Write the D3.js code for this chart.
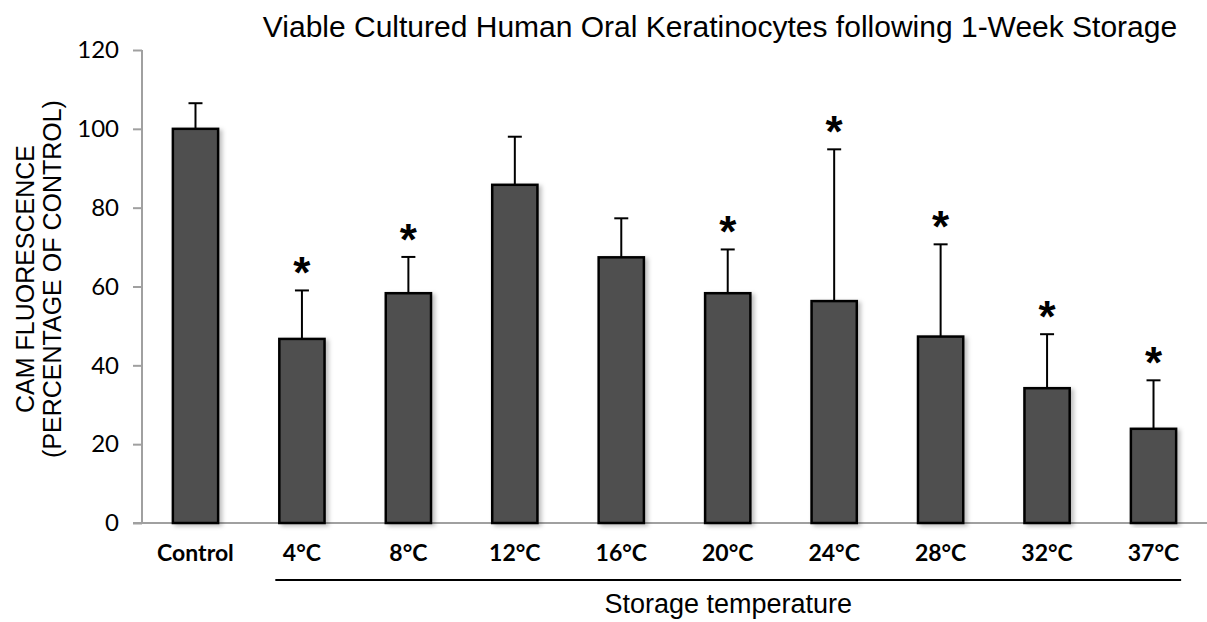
<!DOCTYPE html>
<html>
<head>
<meta charset="utf-8" />
<script src="https://cdnjs.cloudflare.com/ajax/libs/d3/7.8.5/d3.min.js"></script>
<style>
  body { margin: 0; background: #fff; }
  .xlab { font-family: Lato, 'Open Sans', sans-serif; font-size: 23px; font-weight: bold; }
  .title, .label { font-family: 'Liberation Sans', Arial, sans-serif; fill: #000; }
</style>
</head>
<body>
<script>
// chart values
const categories = ["Control", "4°C", "8°C", "12°C", "16°C", "20°C", "24°C", "28°C", "32°C", "37°C"];
const means = [100, 46.7, 58.3, 85.8, 67.4, 58.3, 56.3, 47.3, 34.2, 23.9];
const upperErr = [106.5, 59, 67.5, 98, 77.3, 69.4, 94.8, 70.7, 47.9, 36.2];
const significant = [false, true, true, false, false, true, true, true, true, true];
const yTicks = [0, 20, 40, 60, 80, 100, 120];

const W = 1207, H = 622;
const m = {left: 142, right: 0, top: 50, bottom: 99};

const svg = d3.select("body").append("svg")
  .attr("width", W).attr("height", H);

const x = d3.scaleBand()
  .domain(categories)
  .range([m.left, W - m.right])
  .paddingInner(0.575)
  .paddingOuter(0.29);

const y = d3.scaleLinear()
  .domain([0, 120])
  .range([H - m.bottom, m.top]);

// shadow for bars
const defs = svg.append("defs");
const f = defs.append("filter").attr("id", "shadow")
  .attr("x", "-20%").attr("y", "-5%").attr("width", "150%").attr("height", "110%");
f.append("feDropShadow").attr("dx", 3).attr("dy", 2).attr("stdDeviation", 2)
  .attr("flood-color", "#000").attr("flood-opacity", 0.25);

// y axis
const yAxis = svg.append("g")
  .attr("transform", "translate(" + m.left + ",0)")
  .call(d3.axisLeft(y).tickValues(yTicks).tickSize(9).tickPadding(14));
yAxis.selectAll("line, path").attr("stroke", "#a0a0a0").attr("stroke-width", 2);
yAxis.select(".domain").attr("d", "M0," + y(120) + "V" + y(0));
yAxis.selectAll(".tick text")
  .attr("font-family", "Lato, 'Open Sans', sans-serif")
  .attr("font-size", 24)
  .attr("fill", "#000");

// x axis baseline
svg.append("line")
  .attr("x1", m.left - 9).attr("x2", W)
  .attr("y1", y(0)).attr("y2", y(0))
  .attr("stroke", "#a0a0a0").attr("stroke-width", 2);

const data = categories.map((c, i) => ({c, v: means[i], e: upperErr[i], s: significant[i]}));

// error bars (behind the bars)
const eg = svg.append("g").attr("stroke", "#000").attr("stroke-width", 2);
data.forEach(d => {
  const cx = x(d.c) + x.bandwidth() / 2;
  eg.append("line").attr("x1", cx).attr("x2", cx).attr("y1", y(d.v)).attr("y2", y(d.e));
  eg.append("line").attr("x1", cx - 7).attr("x2", cx + 7).attr("y1", y(d.e)).attr("y2", y(d.e));
});

// bars
svg.append("g").selectAll("rect")
  .data(data)
  .join("rect")
  .attr("x", d => x(d.c))
  .attr("y", d => y(d.v))
  .attr("width", x.bandwidth())
  .attr("height", d => y(0) - y(d.v))
  .attr("fill", "#505050")
  .attr("stroke", "#000")
  .attr("stroke-width", 2.5)
  .attr("filter", "url(#shadow)");

// significance stars
svg.append("g").selectAll("text")
  .data(data.filter(d => d.s))
  .join("text")
  .attr("x", d => x(d.c) + x.bandwidth() / 2)
  .attr("y", d => y(d.e) - 2)
  .attr("text-anchor", "middle")
  .attr("font-family", "'Liberation Sans', Arial, sans-serif")
  .attr("font-weight", "bold")
  .attr("font-size", 44)
  .text("*");

// x labels
svg.append("g").selectAll("text")
  .data(categories)
  .join("text")
  .attr("class", "xlab")
  .attr("x", d => x(d) + x.bandwidth() / 2)
  .attr("y", y(0) + 38)
  .attr("text-anchor", "middle")
  .text(d => d);

// storage bracket line
const bx1 = x(categories[1]) - 4, bx2 = x(categories[9]) + x.bandwidth() + 5;
svg.append("line")
  .attr("x1", bx1).attr("x2", bx2)
  .attr("y1", 580).attr("y2", 580)
  .attr("stroke", "#000").attr("stroke-width", 2);

svg.append("text")
  .attr("class", "label")
  .attr("x", (bx1 + bx2) / 2)
  .attr("y", 613)
  .attr("text-anchor", "middle")
  .attr("font-size", 27)
  .text("Storage temperature");

// y label
const yl = svg.append("text")
  .attr("class", "label")
  .attr("transform", "translate(34,279) rotate(-90)")
  .attr("text-anchor", "middle")
  .attr("font-size", 25);
yl.append("tspan").attr("x", 0).attr("dy", 0).text("CAM FLUORESCENCE");
yl.append("tspan").attr("x", 0).attr("dy", 27).text("(PERCENTAGE OF CONTROL)");

// title
svg.append("text")
  .attr("class", "title")
  .attr("x", 720)
  .attr("y", 37)
  .attr("text-anchor", "middle")
  .attr("font-size", 30)
  .text("Viable Cultured Human Oral Keratinocytes following 1-Week Storage");
</script>
</body>
</html>
